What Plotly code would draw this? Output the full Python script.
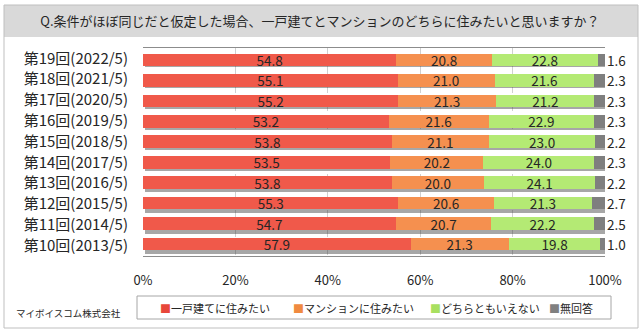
import plotly.graph_objects as go

categories = ["第19回(2022/5)", "第18回(2021/5)", "第17回(2020/5)", "第16回(2019/5)", "第15回(2018/5)",
              "第14回(2017/5)", "第13回(2016/5)", "第12回(2015/5)", "第11回(2014/5)", "第10回(2013/5)"]
series_names = ["一戸建てに住みたい", "マンションに住みたい", "どちらともいえない", "無回答"]
ikkodate = [54.8, 55.1, 55.2, 53.2, 53.8, 53.5, 53.8, 55.3, 54.7, 57.9]
mansion = [20.8, 21.0, 21.3, 21.6, 21.1, 20.2, 20.0, 20.6, 20.7, 21.3]
dochira = [22.8, 21.6, 21.2, 22.9, 23.0, 24.0, 24.1, 21.3, 22.2, 19.8]
mukaitou = [1.6, 2.3, 2.3, 2.3, 2.2, 2.3, 2.2, 2.7, 2.5, 1.0]
x_ticks = [0, 20, 40, 60, 80, 100]
x_tick_labels = ["0%", "20%", "40%", "60%", "80%", "100%"]

colors = ["#f0594a", "#f5904f", "#b4ea74", "#7f7f7f"]
legend_colors = ["#e8473a", "#f08a40", "#a8e060", "#808080"]
FONT = "Noto Sans CJK JP"
TXT = "#262626"
BW = 0.62

fig = go.Figure()

# soft drop shadow under each stacked bar (drawn on base axes)
totals = [a + b + c + d for a, b, c, d in zip(ikkodate, mansion, dochira, mukaitou)]
fig.add_trace(go.Bar(
    y=categories, x=totals, base=0.5, orientation="h", width=BW, offset=-BW / 2 + 0.11,
    marker=dict(color="rgba(60,60,60,0.45)", line=dict(width=0)),
    showlegend=False, hoverinfo="skip", xaxis="x", yaxis="y"))

for name, vals, col in zip(series_names, [ikkodate, mansion, dochira, mukaitou], colors):
    show_text = name != "無回答"
    fig.add_trace(go.Bar(
        y=categories, x=vals, name=name, orientation="h", width=BW,
        marker=dict(color=col, line=dict(width=0)),
        text=[f"{v:.1f}" for v in vals] if show_text else None,
        textposition="inside" if show_text else "none",
        insidetextanchor="middle", textangle=0, constraintext="none",
        textfont=dict(family=FONT, size=13.5, color=TXT),
        showlegend=False, xaxis="x2", yaxis="y2"))

for cat, v in zip(categories, mukaitou):
    fig.add_annotation(x=100, y=cat, xref="x2", yref="y2", text=f"{v:.1f}", showarrow=False,
                       xanchor="left", xshift=0, font=dict(family=FONT, size=13.5, color=TXT))

L, R, T, B = 143, 35, 48, 76
W, H = 640, 332
pw, ph = W - L - R, H - T - B
px = lambda p: (p - L) / pw
py = lambda p: (H - B - p) / ph

# outer frame and title band
fig.add_shape(type="rect", xref="paper", yref="paper", x0=px(4), x1=px(638), y0=py(37), y1=py(5),
              fillcolor="#d9d9d9", line=dict(width=0), layer="below")
fig.add_shape(type="rect", xref="paper", yref="paper", x0=px(4), x1=px(638), y0=py(328), y1=py(5),
              fillcolor="rgba(0,0,0,0)", line=dict(color="#bfbfbf", width=1), layer="below")

# legend box with text entries
fig.add_shape(type="rect", xref="paper", yref="paper", x0=px(137), x1=px(611), y0=py(319), y1=py(296),
              fillcolor="white", line=dict(color="#a6a6a6", width=1), layer="below")
legend_x = [158, 291, 428, 547]
for name, col, lx in zip(series_names, legend_colors, legend_x):
    fig.add_annotation(xref="paper", yref="paper", x=px(lx), y=py(307.5), xanchor="left", yanchor="middle",
                       text=f'<span style="color:{col}">■</span>{name}', showarrow=False,
                       font=dict(family=FONT, size=11, color=TXT))

fig.add_annotation(xref="paper", yref="paper", x=px(14), y=py(313), xanchor="left", yanchor="middle",
                   text="マイボイスコム株式会社", showarrow=False,
                   font=dict(family=FONT, size=9.5, color=TXT))

fig.update_layout(
    width=W, height=H, margin=dict(l=L, r=R, t=T, b=B, autoexpand=False),
    paper_bgcolor="white", plot_bgcolor="white",
    barmode="stack",
    font=dict(family=FONT, color=TXT),
    title=dict(text="Q.条件がほぼ同じだと仮定した場合、一戸建てとマンションのどちらに住みたいと思いますか？",
               x=0.5, xanchor="center", y=1 - 21 / H, yanchor="middle",
               font=dict(family=FONT, size=13, color=TXT)),
    xaxis=dict(range=[0, 100], tickvals=x_ticks, ticktext=x_tick_labels, showgrid=True,
               gridcolor="#d0d0d0", griddash="dash", gridwidth=1, zeroline=False,
               showline=True, mirror=True, linecolor="#8c8c8c", linewidth=1,
               ticks="", ticklabelstandoff=12, tickfont=dict(family=FONT, size=13, color=TXT),
               fixedrange=True, automargin=False),
    yaxis=dict(categoryorder="array", categoryarray=categories, autorange="reversed",
               showgrid=False, ticks="", ticklabelstandoff=14,
               tickfont=dict(family=FONT, size=15, color=TXT), fixedrange=True, automargin=False),
    xaxis2=dict(range=[0, 100], overlaying="x", visible=False, fixedrange=True),
    yaxis2=dict(categoryorder="array", categoryarray=categories, autorange="reversed",
                overlaying="y", visible=False, fixedrange=True),
    showlegend=False,
)

fig.write_html("out.html")
